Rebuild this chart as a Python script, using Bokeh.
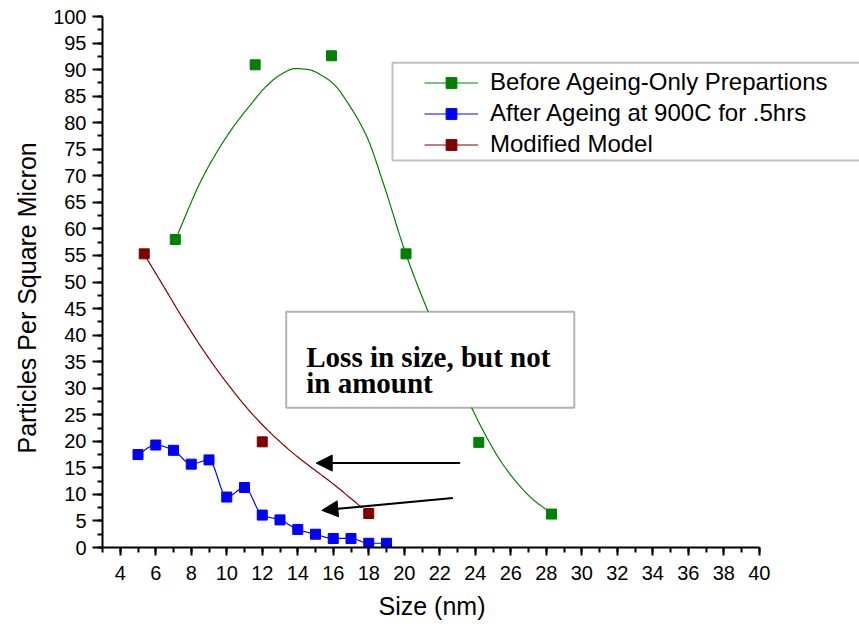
import numpy as np
from bokeh.plotting import figure
from bokeh.models import (Range1d, SingleIntervalTicker, Legend, LegendItem,
                          BoxAnnotation, Label, Arrow, NormalHead, Title)
from bokeh.embed import file_html
from bokeh.resources import INLINE

# ---- data ----
before_x = [7.1, 11.6, 15.9, 20.1, 24.2, 28.3]
before_y = [58.0, 90.9, 92.6, 55.3, 19.8, 6.3]

after_x = [5, 6, 7, 8, 9, 10, 11, 12, 13, 14, 15, 16, 17, 18, 19]
after_y = [17.5, 19.3, 18.3, 15.7, 16.5, 9.5, 11.3, 6.1, 5.2, 3.4, 2.5, 1.7, 1.7, 0.8, 0.8]

model_x = [5.35, 12.0, 18.0]
model_y = [55.3, 19.9, 6.4]

# fitted curves
before_fit_x = [7.25, 8.51, 9.45, 10.39, 11.32, 12.27, 13.01, 13.86, 14.6, 15.5, 16.02, 16.96,
                17.90, 18.83, 20.09, 21.35, 22.59, 23.83, 24.46, 25.41, 26.35, 27.27, 28.24]
before_fit_y = [59.1, 68.8, 74.5, 79.3, 83.3, 87.0, 89.0, 90.2, 90.0, 88.6, 87.3, 83.0,
                77.3, 68.5, 55.3, 44.4, 35.0, 26.1, 21.9, 16.4, 12.2, 9.0, 6.6]

model_fit_x = [5.35, 6.35, 7.48, 8.69, 10.05, 11.61, 13.58, 16.02, 17.62]
model_fit_y = [55.2, 49.7, 43.4, 37.1, 30.8, 24.5, 18.2, 11.9, 7.5]

labels = ["Before Ageing-Only Prepartions", "After Ageing at 900C for .5hrs", "Modified Model"]
colors = ["#008000", "#0000FF", "#800000"]

x_title = "Size (nm)"
y_title = "Particles Per Square Micron"
note_lines = ["Loss in size, but not", "in amount"]


def pchip(x, y, n=24):
    """Monotone cubic (Fritsch-Carlson) rendering of a line through given points."""
    x = np.asarray(x, float)
    y = np.asarray(y, float)
    h = np.diff(x)
    d = np.diff(y) / h
    m = np.zeros_like(x)
    m[0], m[-1] = d[0], d[-1]
    for k in range(1, len(x) - 1):
        if d[k - 1] * d[k] <= 0:
            m[k] = 0.0
        else:
            w1 = 2 * h[k] + h[k - 1]
            w2 = h[k] + 2 * h[k - 1]
            m[k] = (w1 + w2) / (w1 / d[k - 1] + w2 / d[k])
    xs, ys = [], []
    for k in range(len(x) - 1):
        t = np.linspace(0, 1, n, endpoint=(k == len(x) - 2))
        h00 = 2 * t**3 - 3 * t**2 + 1
        h10 = t**3 - 2 * t**2 + t
        h01 = -2 * t**3 + 3 * t**2
        h11 = t**3 - t**2
        xs.extend(x[k] + t * h[k])
        ys.extend(h00 * y[k] + h10 * h[k] * m[k] + h01 * y[k + 1] + h11 * h[k] * m[k + 1])
    return xs, ys


FONT = "Liberation Sans"

p = figure(width=859, height=627, output_backend="svg", toolbar_location=None,
           x_range=Range1d(3, 3 + 757 / 17.75), y_range=Range1d(0, 100),
           min_border_left=102, min_border_right=0, min_border_top=16, min_border_bottom=80)
p.outline_line_color = None
p.xgrid.visible = False
p.ygrid.visible = False
p.background_fill_color = "white"
p.border_fill_color = "white"

# axes
p.xaxis.ticker = SingleIntervalTicker(interval=2, num_minor_ticks=2)
p.yaxis.ticker = SingleIntervalTicker(interval=5, num_minor_ticks=2)
p.xaxis.bounds = (3, 40)
p.yaxis.bounds = (0, 100)
for ax in (p.xaxis, p.yaxis):
    ax.axis_line_width = 2
    ax.axis_line_color = "black"
    ax.major_tick_line_width = 2
    ax.minor_tick_line_width = 2
    ax.major_tick_line_color = "black"
    ax.minor_tick_line_color = "black"
    ax.major_tick_in = 0
    ax.minor_tick_in = 0
    ax.minor_tick_out = 5
    ax.major_label_text_font = FONT
    ax.major_label_text_font_size = "20px"
    ax.major_label_text_color = "black"
p.xaxis.major_tick_out = 8
p.yaxis.major_tick_out = 10
p.xaxis.major_label_standoff = 10
p.yaxis.major_label_standoff = 6

# axis titles, positioned along the axes as in the reference
p.add_layout(Title(text=x_title, align="left", offset=276, standoff=14,
                   text_font=FONT, text_font_size="25px", text_font_style="normal",
                   text_color="black"), "below")
p.add_layout(Title(text=y_title, align="left", offset=94, standoff=20,
                   text_font=FONT, text_font_size="25px", text_font_style="normal",
                   text_color="black"), "left")

# curves and points
gx, gy = pchip(before_fit_x, before_fit_y)
bx, by = pchip(after_x, after_y)
rx, ry = pchip(model_fit_x, model_fit_y)

gl = p.line(gx, gy, line_color=colors[0], line_width=1.2)
bl = p.line(bx, by, line_color=colors[1], line_width=1.2)
rl = p.line(rx, ry, line_color=colors[2], line_width=1.2)

gs = p.scatter(before_x, before_y, marker="square", size=10, fill_color=colors[0], line_color=colors[0])
bs = p.scatter(after_x, after_y, marker="square", size=10, fill_color=colors[1], line_color=colors[1])
rs = p.scatter(model_x, model_y, marker="square", size=10, fill_color=colors[2], line_color=colors[2])

# legend frame
p.add_layout(BoxAnnotation(left=19.34, right=60, top=91.3, bottom=72.9,
                           fill_color="white", fill_alpha=1.0,
                           line_color="#333333", line_width=2))

legend = Legend(items=[LegendItem(label=labels[0], renderers=[gl, gs]),
                       LegendItem(label=labels[1], renderers=[bl, bs]),
                       LegendItem(label=labels[2], renderers=[rl, rs])],
                location=(316, 383), orientation="vertical",
                border_line_alpha=0, background_fill_alpha=0,
                label_text_font=FONT, label_text_font_size="24px", label_text_color="black",
                glyph_width=54, glyph_height=27, label_height=27, spacing=3,
                padding=6, margin=0, label_standoff=12)
p.add_layout(legend, "center")

# note box
p.add_layout(BoxAnnotation(left=13.35, right=29.58, top=44.4, bottom=26.3,
                           fill_color="white", fill_alpha=1.0,
                           line_color="black", line_width=2))
for txt, yy in zip(note_lines, [35.8, 30.9]):
    p.add_layout(Label(x=14.48, y=yy, text=txt, text_font="Liberation Serif",
                       text_font_style="bold", text_font_size="29px",
                       text_color="black", text_baseline="alphabetic", text_align="left"))

# arrows
for xs_, ys_, xe_, ye_ in [(23.15, 15.9, 15.04, 15.9), (22.74, 9.3, 15.36, 7.0)]:
    p.add_layout(Arrow(end=NormalHead(size=16, fill_color="black", line_color="black"),
                       x_start=xs_, y_start=ys_, x_end=xe_, y_end=ye_,
                       line_color="black", line_width=2))

open("out.html", "w").write(file_html(p, INLINE))
